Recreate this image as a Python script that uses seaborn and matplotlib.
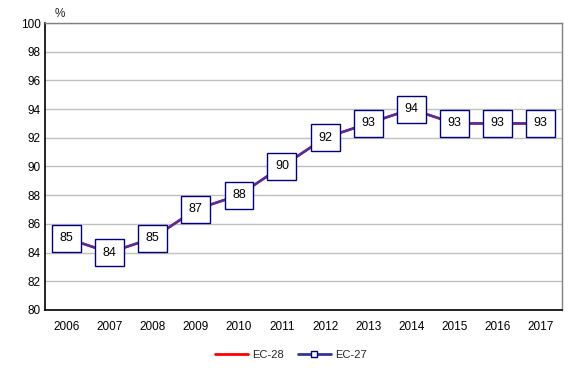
import matplotlib
matplotlib.use("Agg")
import matplotlib.pyplot as plt
import seaborn as sns
import pandas as pd
from matplotlib.lines import Line2D

years = ["2006", "2007", "2008", "2009", "2010", "2011", "2012", "2013", "2014", "2015", "2016", "2017"]
ec27 = [85, 84, 85, 87, 88, 90, 92, 93, 94, 93, 93, 93]
ec28 = [85, 84, 85, 87, 88, 90, 92, 93, 94, 93, 93, 93]

sns.set_style("white")
plt.rcParams["font.family"] = ["Liberation Sans", "DejaVu Sans"]

df = pd.DataFrame({"year": years, "EC-28": ec28, "EC-27": ec27})
df["pos"] = range(len(years))

fig = plt.figure(figsize=(5.76, 3.72), dpi=100)
ax = fig.add_axes([0.078, 0.167, 0.898, 0.771])

# EC-28 sits underneath EC-27, which gives the purple tint of the line
sns.lineplot(data=df, x="pos", y="EC-28", ax=ax, color="#ff0000", linewidth=1.8)
sns.lineplot(data=df, x="pos", y="EC-27", ax=ax, color="#5030a0", linewidth=1.8)

for i, v in enumerate(ec27):
    ax.text(i, v, str(v), ha="center", va="center", fontsize=9, color="black",
            bbox=dict(boxstyle="square,pad=0.6", facecolor="white", edgecolor="#000080", linewidth=1),
            zorder=5)

ax.set_xlim(-0.5, len(years) - 0.5)
ax.set_ylim(80, 100)
ax.set_yticks(range(80, 101, 2))
ax.set_xticks(df["pos"])
ax.set_xticklabels(years)
ax.tick_params(axis="both", labelsize=8.5, length=0, colors="black")
ax.tick_params(axis="y", pad=3)
ax.tick_params(axis="x", pad=8)
ax.set_xlabel("")
ax.set_ylabel("")
ax.grid(axis="y", color="#c0c0c0", linewidth=1)
ax.set_axisbelow(True)
for s in ["left", "bottom"]:
    ax.spines[s].set_color("black")
    ax.spines[s].set_linewidth(1.2)
for s in ["top", "right"]:
    ax.spines[s].set_color("#808080")
    ax.spines[s].set_linewidth(1)

fig.text(60 / 576, 1 - 14 / 372, "%", fontsize=8.5, ha="center", va="center")

handles = [
    Line2D([], [], color="#ff0000", linewidth=2),
    Line2D([], [], color="#333399", linewidth=2, marker="s", markersize=4,
           markerfacecolor="white", markeredgecolor="#000080"),
]
fig.legend(handles, ["EC-28", "EC-27"], loc="center", bbox_to_anchor=(0.505, 1 - 355 / 372),
           ncol=2, frameon=False, fontsize=8, handlelength=3, columnspacing=1.2, handletextpad=0.4)

fig.savefig("out.png", dpi=100)
